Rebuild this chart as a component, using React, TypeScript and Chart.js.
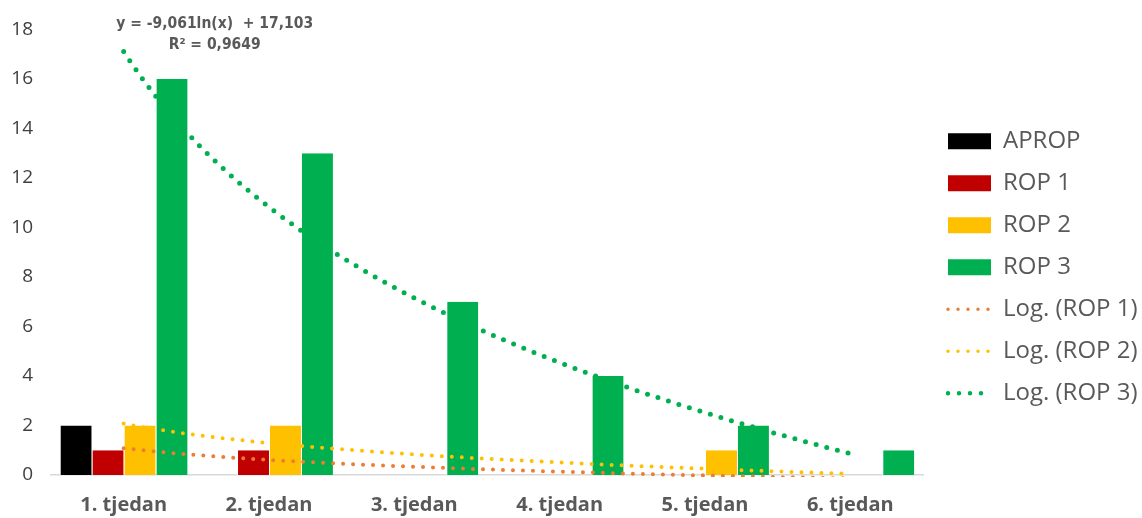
import React, { useEffect, useRef } from "react";
import { Chart, registerables } from "chart.js";

Chart.register(...registerables);

// ---- data ----
const categories = ["1. tjedan", "2. tjedan", "3. tjedan", "4. tjedan", "5. tjedan", "6. tjedan"];
const aprop = [2, 0, 0, 0, 0, 0];
const rop1 = [1, 1, 0, 0, 0, 0];
const rop2 = [2, 2, 0, 0, 1, 0];
const rop3 = [16, 13, 7, 4, 2, 1];
const seriesNames = ["APROP", "ROP 1", "ROP 2", "ROP 3"];
const trendNames = ["Log. (ROP 1)", "Log. (ROP 2)", "Log. (ROP 3)"];
const equationLines = ["y = -9,061ln(x)  + 17,103", "R² = 0,9649"];
const yMin = 0;
const yMax = 18;
const yStep = 2;

// ---- styles ----
const barColors = ["#000000", "#C00000", "#FFC000", "#00B050"];
const trendColors = ["#ED7D31", "#FFC000", "#00B050"];
const trendWidths = [4, 4, 5];
const trendGaps = [10, 10, 11];
const FONT = '"Open Sans", Lato, sans-serif';

// Least-squares logarithmic regression (Excel "Log." trendline): y = a*ln(x) + b
function logFit(ys: number[]) {
  const n = ys.length;
  const ls = ys.map((_, i) => Math.log(i + 1));
  const lm = ls.reduce((s, v) => s + v, 0) / n;
  const ym = ys.reduce((s, v) => s + v, 0) / n;
  let sxy = 0;
  let sxx = 0;
  ls.forEach((l, i) => {
    sxy += (l - lm) * (ys[i] - ym);
    sxx += (l - lm) * (l - lm);
  });
  const a = sxy / sxx;
  const b = ym - a * lm;
  return { a, b };
}

// fitted curve, x in category-index units (0 = first category)
function trendCurve(ys: number[]) {
  const { a, b } = logFit(ys);
  const pts: { x: number; y: number }[] = [];
  const steps = 80;
  for (let k = 0; k <= steps; k++) {
    const xv = 1 + (k * (ys.length - 1)) / steps;
    pts.push({ x: xv - 1, y: a * Math.log(xv) + b });
  }
  return pts;
}

const equationPlugin = {
  id: "equationLabel",
  afterDatasetsDraw(chart: any) {
    const { ctx, chartArea } = chart;
    const xs = chart.scales.x;
    const cx = xs.getPixelForValue(0) + 91;
    ctx.save();
    ctx.font = 'bold 15.5px "Liberation Sans Narrow", "Arial Narrow", "DejaVu Sans Condensed", sans-serif';
    ctx.fillStyle = "#595959";
    ctx.textAlign = "center";
    ctx.textBaseline = "middle";
    ctx.fillText(equationLines[0], cx, chartArea.top - 5);
    ctx.fillText(equationLines[1], cx, chartArea.top + 16);
    ctx.restore();
  },
};

const PLOT_RIGHT = 923;
const LEGEND_WIDTH = 212;

export default function App() {
  const ref = useRef<HTMLCanvasElement | null>(null);

  useEffect(() => {
    if (!ref.current) return;
    const barData = [aprop, rop1, rop2, rop3];
    const datasets: any[] = barData.map((d, i) => ({
      type: "bar",
      label: seriesNames[i],
      data: d,
      backgroundColor: barColors[i],
      borderColor: "#ffffff",
      borderWidth: { left: 1, right: 0, top: 0, bottom: 0 },
      borderSkipped: false,
      inflateAmount: 0,
      categoryPercentage: 0.88,
      barPercentage: 1,
      xAxisID: "x",
      yAxisID: "y",
      order: 1,
    }));
    [rop1, rop2, rop3].forEach((d, i) => {
      datasets.push({
        type: "line",
        label: trendNames[i],
        data: trendCurve(d),
        parsing: false,
        normalized: true,
        borderColor: trendColors[i],
        borderWidth: trendWidths[i],
        borderDash: [0, trendGaps[i]],
        borderCapStyle: "round",
        pointRadius: 0,
        fill: false,
        tension: 0,
        xAxisID: "x",
        yAxisID: "y",
        clip: 2,
        order: -1,
      });
    });

    const chart = new Chart(ref.current, {
      type: "bar",
      data: { labels: categories, datasets },
      plugins: [equationPlugin],
      options: {
        responsive: false,
        animation: false,
        layout: { padding: { top: 27, left: 0, right: 0, bottom: 0 } },
        scales: {
          x: {
            type: "category",
            offset: true,
            grid: { display: false, drawTicks: false },
            border: { display: true, color: "#D9D9D9", width: 1.5 },
            ticks: {
              color: "#595959",
              font: { family: FONT, size: 20, weight: "bold" },
              padding: 18,
              maxRotation: 0,
              autoSkip: false,
            },
            afterFit: (s: any) => {
              s.height = 43;
            },
          },
          y: {
            min: yMin,
            max: yMax,
            grid: { display: false, drawTicks: false },
            border: { display: false },
            ticks: {
              stepSize: yStep,
              color: "#404040",
              font: { family: FONT, size: 19 },
              padding: 18,
            },
            afterFit: (s: any) => {
              s.width = 51;
            },
          },
          y2: {
            type: "linear",
            position: "right",
            display: true,
            grid: { display: false, drawTicks: false },
            border: { display: false },
            ticks: { display: false },
            afterFit: (s: any) => {
              s.width = 1142 - PLOT_RIGHT - LEGEND_WIDTH;
            },
          },
        } as any,
        plugins: {
          tooltip: { enabled: false },
          title: { display: false },
          legend: {
            position: "right",
            align: "center",
            fullSize: false,
            maxWidth: LEGEND_WIDTH,
            title: { display: true, text: " ", font: { size: 10 }, padding: 9 },
            labels: {
              usePointStyle: true,
              pointStyleWidth: 43,
              boxHeight: 16,
              padding: 18,
              color: "#595959",
              font: { family: FONT, size: 24 },
              generateLabels: (c: any) =>
                c.data.datasets.map((ds: any, i: number) => {
                  const isBar = ds.type === "bar";
                  return {
                    text: ds.label,
                    datasetIndex: i,
                    fillStyle: isBar ? ds.backgroundColor : "rgba(0,0,0,0)",
                    strokeStyle: isBar ? ds.backgroundColor : ds.borderColor,
                    lineWidth: isBar ? 0 : ds.borderWidth - 0.5,
                    lineDash: isBar ? [] : ds.borderDash,
                    lineCap: "round",
                    pointStyle: isBar ? "rect" : "line",
                    fontColor: "#595959",
                    hidden: false,
                  };
                }),
            },
          },
        },
      } as any,
    });
    return () => chart.destroy();
  }, []);

  return (
    <div style={{ position: "absolute", left: 0, top: 0, width: 1142, height: 518, background: "#fff" }}>
      <canvas ref={ref} width={1142} height={518} />
    </div>
  );
}
